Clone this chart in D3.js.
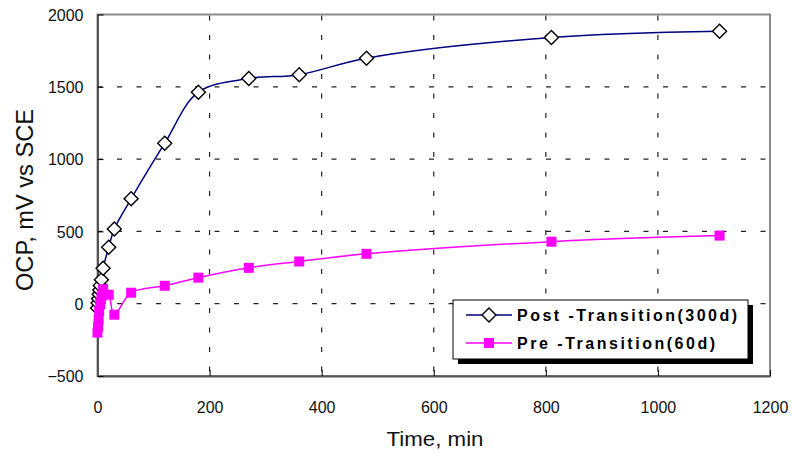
<!DOCTYPE html>
<html><head><meta charset="utf-8">
<script src="https://cdn.jsdelivr.net/npm/d3@7"></script>
<style>body{margin:0;background:#fff}svg{display:block}text{font-family:"Liberation Sans",Arial,sans-serif}</style>
</head><body><svg id="c" width="792" height="456"></svg>
<script>
const postTime = [0, 1, 2, 3, 4, 5, 7, 10, 20, 30, 60, 120, 180, 270, 360, 480, 810, 1110];
const postOCP  = [-30, 5, 35, 65, 95, 125, 165, 245, 390, 517, 725, 1110, 1463, 1557, 1584, 1698, 1841, 1884];
const preTime  = [0, 1, 2, 3, 5, 7, 10, 20, 30, 60, 120, 180, 270, 360, 480, 810, 1110];
const preOCP   = [-200, -160, -110, -50, 0, 50, 100, 62, -76, 76, 124, 180, 248, 292, 345, 429, 471];
const xTicks = [0, 200, 400, 600, 800, 1000, 1200];
const yTicks = [-500, 0, 500, 1000, 1500, 2000];
const seriesNames = ["Post -Transition(300d)", "Pre -Transition(60d)"];
const xTitle = "Time, min";
const yTitle = "OCP, mV vs SCE";

const svg = d3.select("#c");
const L = 97.5, R = 770, T = 14.5, B = 376;
const x = d3.scaleLinear().domain([0, 1200]).range([L, R]);
const y = d3.scaleLinear().domain([-500, 2000]).range([B, T]);

// gridlines
const g = svg.append("g");
g.selectAll(".hg").data(yTicks.filter(v => v > -500 && v < 2000)).join("line")
  .attr("x1", L).attr("x2", R).attr("y1", d => y(d)).attr("y2", d => y(d))
  .attr("stroke", "#222").attr("stroke-width", 1.2).attr("stroke-dasharray", "5,14.5");
g.selectAll(".vg").data(xTicks.filter(v => v > 0 && v < 1200)).join("line")
  .attr("y1", T).attr("y2", B).attr("x1", d => x(d)).attr("x2", d => x(d))
  .attr("stroke", "#222").attr("stroke-width", 1.2).attr("stroke-dasharray", "5,14.5").attr("stroke-dashoffset", -1);

// frame
svg.append("rect").attr("x", L).attr("y", T).attr("width", R - L).attr("height", B - T)
  .attr("fill", "none").attr("stroke", "#8a8a8a").attr("stroke-width", 2);

// axes
const xa = svg.append("g").attr("transform", `translate(0,${B})`)
  .call(d3.axisBottom(x).tickValues(xTicks).tickSizeInner(-6).tickSizeOuter(0).tickPadding(0).tickFormat(d3.format("d")));
xa.select(".domain").attr("stroke", "#555").attr("stroke-width", 2);
xa.selectAll(".tick line").attr("stroke", "#000");
xa.selectAll(".tick text").attr("font-size", 16).attr("y", 37).attr("dy", 0).attr("fill", "#111")
  .style("font-family", "'Liberation Sans',Arial,sans-serif");

const ya = svg.append("g").attr("transform", `translate(${L},0)`)
  .call(d3.axisLeft(y).tickValues(yTicks).tickSizeInner(-6).tickSizeOuter(0).tickPadding(0).tickFormat(d3.format("d")));
ya.select(".domain").attr("stroke", "#555").attr("stroke-width", 2);
ya.selectAll(".tick line").attr("stroke", "#000");
ya.selectAll(".tick text").attr("font-size", 16).attr("x", -14).attr("dy", "0.35em").attr("fill", "#111")
  .style("font-family", "'Liberation Sans',Arial,sans-serif");

// lines
const postData = postTime.map((t, i) => [t, postOCP[i]]);
const preData = preTime.map((t, i) => [t, preOCP[i]]);
const line = d3.line().x(d => x(d[0])).y(d => y(d[1])).curve(d3.curveCatmullRom.alpha(0.5));

svg.append("path").datum(preData).attr("d", line).attr("fill", "none")
  .attr("stroke", "#ff00ff").attr("stroke-width", 1.5);
svg.append("path").datum(postData).attr("d", line).attr("fill", "none")
  .attr("stroke", "#000080").attr("stroke-width", 1.5);

const diamond = d3.symbol().type(d3.symbolSquare).size(98);
svg.append("g").selectAll("path").data(postData).join("path")
  .attr("d", diamond)
  .attr("transform", d => `translate(${x(d[0])},${y(d[1])}) rotate(45)`)
  .attr("fill", "#fff").attr("stroke", "#000").attr("stroke-width", 1.4);

svg.append("g").selectAll("rect").data(preData).join("rect")
  .attr("x", d => x(d[0]) - 5).attr("y", d => y(d[1]) - 5).attr("width", 10).attr("height", 10)
  .attr("fill", "#ff00ff");

// legend
const lg = svg.append("g");
lg.append("rect").attr("x", 458).attr("y", 305).attr("width", 295).attr("height", 59).attr("fill", "#000");
lg.append("rect").attr("x", 453).attr("y", 300).attr("width", 295).attr("height", 59)
  .attr("fill", "#fff").attr("stroke", "#000").attr("stroke-width", 1);
const rows = [
  {name: seriesNames[0], color: "#000080", yy: 315, len: 220},
  {name: seriesNames[1], color: "#ff00ff", yy: 343, len: 198}
];
rows.forEach((r, i) => {
  lg.append("line").attr("x1", 466).attr("x2", 512).attr("y1", r.yy).attr("y2", r.yy)
    .attr("stroke", r.color).attr("stroke-width", 1.5);
  if (i === 0) {
    lg.append("path").attr("d", diamond).attr("transform", `translate(489,${r.yy}) rotate(45)`)
      .attr("fill", "#fff").attr("stroke", "#000").attr("stroke-width", 1.4);
  } else {
    lg.append("rect").attr("x", 484).attr("y", r.yy - 5).attr("width", 10).attr("height", 10).attr("fill", "#ff00ff");
  }
  lg.append("text").attr("x", 517).attr("y", r.yy).attr("dy", "0.36em")
    .attr("font-size", 16).attr("font-weight", "bold").attr("fill", "#000")
    .attr("textLength", r.len).attr("lengthAdjust", "spacing").text(r.name);
});

// titles
svg.append("text").attr("x", 435).attr("y", 446).attr("text-anchor", "middle")
  .attr("font-size", 21).attr("fill", "#111").attr("textLength", 97).attr("lengthAdjust", "spacingAndGlyphs").text(xTitle);
svg.append("text").attr("transform", "translate(32.5,200) rotate(-90)").attr("text-anchor", "middle")
  .attr("font-size", 24).attr("fill", "#111").attr("textLength", 182).attr("lengthAdjust", "spacingAndGlyphs").text(yTitle);
</script></body></html>
